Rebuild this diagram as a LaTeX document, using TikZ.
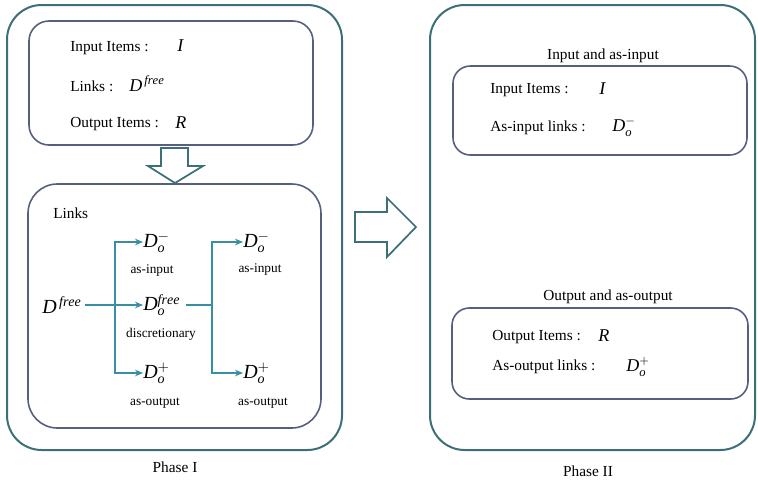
\documentclass[tikz,border=0pt]{standalone}
\usepackage{fontspec}
\setmainfont{Liberation Serif}
\usetikzlibrary{arrows.meta}
\definecolor{outerc}{HTML}{3D6F78}
\definecolor{innerc}{HTML}{55607F}
\definecolor{linkc}{HTML}{3A8EA3}
\newcommand{\Dv}{\mathit{D}}
\begin{document}
\begin{tikzpicture}[x=0.75pt,y=-0.75pt,
  outerbox/.style={draw=outerc,line width=1.5pt,rounded corners=26pt},
  innerbox/.style={draw=innerc,line width=1.2pt},
  txt/.style={anchor=west,inner sep=0pt,font=\fontsize{11.5}{13}\selectfont},
  mth/.style={anchor=west,inner sep=0pt,font=\fontsize{13.5}{15}\selectfont},
  big/.style={anchor=west,inner sep=0pt,font=\fontsize{15}{17}\selectfont},
  small/.style={inner sep=0pt,font=\fontsize{10}{12}\selectfont},
  phase/.style={inner sep=0pt,font=\fontsize{11.5}{13}\selectfont},
  link/.style={draw=linkc,line width=0.9pt,-{Stealth[length=6pt,width=5pt]}},
  bigarrow/.style={draw=outerc,line width=1.3pt,fill=white}]
\useasboundingbox (0,0) rectangle (758,480);
% phase I
\draw[outerbox] (7,5) rectangle (342,450);
\draw[innerbox,rounded corners=15pt] (29,21) rectangle (313,145);
\draw[innerbox,rounded corners=22pt] (28,184) rectangle (321,428);
\draw[bigarrow] (161,148) -- (188,148) -- (188,166) -- (203,166) -- (175,183)
  -- (148,166) -- (161,166) -- cycle;
\node(ii1) at (70,48) [txt] {Input Items :};
\node(I1) at (177,46) [mth] {$\mathit{I}$};
\node(lk1) at (70,86) [txt] {Links :};
\node(Df1) at (129,84) [mth] {$\Dv^{\,\mathit{free}}$};
\node(oi1) at (70,124) [txt] {Output Items :};
\node(R1) at (175,123) [mth] {$\mathit{R}$};
\node(lks) at (53,213) [txt] {Links};
\node(Dfree) at (42,305) [big] {$\Dv^{\,\mathit{free}}$};
\node(Dom) at (143,242) [big] {$\Dv^{-}_{\mathit{o}}$};
\node(ain1) at (152,270) [small] {as-input};
\node(Dof) at (143,305) [big] {$\Dv^{\mathit{free}}_{\mathit{o}}$};
\node(dsc) at (161,334) [small] {discretionary};
\node(Dop) at (143,373) [big] {$\Dv^{+}_{\mathit{o}}$};
\node(aout1) at (155,403) [small] {as-output};
\node(Dom2) at (243,242) [big] {$\Dv^{-}_{\mathit{o}}$};
\node(ain2) at (260,269) [small] {as-input};
\node(Dop2) at (243,373) [big] {$\Dv^{+}_{\mathit{o}}$};
\node(aout2) at (263,403) [small] {as-output};
\coordinate(b1) at (115,305);
\coordinate(b2) at (212,305);
\draw[link] (Dfree.east) ++(3,0) -- (Dof.west);
\draw[link] (b1) |- (Dom.west);
\draw[link] (b1) |- (Dop.west);
\draw[draw=linkc,line width=0.9pt,shorten <=4pt] (Dof.east) -- (b2);
\draw[link] (b2) |- (Dom2.west);
\draw[link] (b2) |- (Dop2.west);
\node(p1) at (175,467) [phase] {Phase I};
% arrow between phases
\draw[bigarrow] (355,212) -- (387,212) -- (387,198) -- (416,227) -- (387,257)
  -- (387,242) -- (355,242) -- cycle;
% phase II
\draw[outerbox] (430,5) rectangle (755,450);
\draw[innerbox,rounded corners=13pt] (453,66) rectangle (747,155);
\draw[innerbox,rounded corners=13pt] (452,308) rectangle (748,399);
\node(h1) at (603,56) [txt,anchor=center] {Input and as-input};
\node(ii2) at (490,90) [txt] {Input Items :};
\node(I2) at (599,89) [mth] {$\mathit{I}$};
\node(al) at (490,128) [txt] {As-input links :};
\node(Dm3) at (612,127) [mth] {$\Dv^{-}_{\mathit{o}}$};
\node(h2) at (608,297) [txt,anchor=center] {Output and as-output};
\node(oi2) at (492,337) [txt] {Output Items :};
\node(R2) at (598,336) [mth] {$\mathit{R}$};
\node(ao) at (492,367) [txt] {As-output links :};
\node(Dp3) at (626,367) [mth] {$\Dv^{+}_{\mathit{o}}$};
\node(p2) at (588,471) [phase] {Phase II};
\end{tikzpicture}
\end{document}
